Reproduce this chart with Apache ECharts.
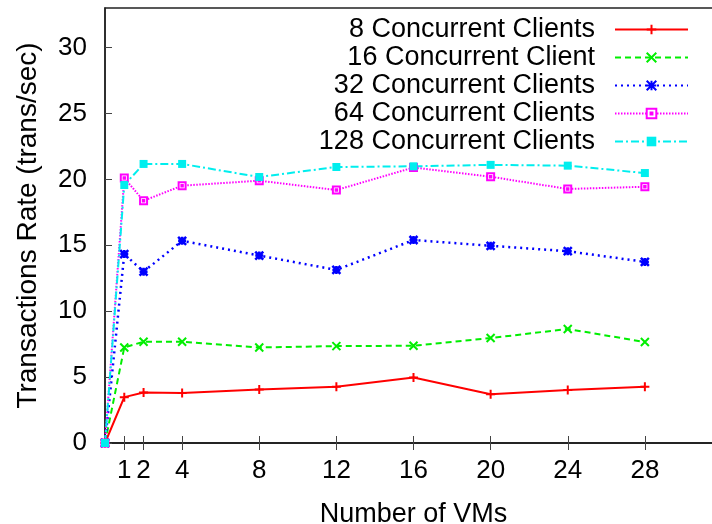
<!DOCTYPE html>
<html>
<head>
<meta charset="utf-8">
<script src="https://cdn.jsdelivr.net/npm/echarts@6/dist/echarts.min.js"></script>
<style>
  html, body { margin: 0; padding: 0; background: #fff; }
  #chart { width: 712px; height: 524px; }
</style>
</head>
<body>
<div id="chart"></div>
<script>
// Number of VMs (x positions of the measurements)
const vms = [0, 1, 2, 4, 8, 12, 16, 20, 24, 28];
const xTicks = [1, 2, 4, 8, 12, 16, 20, 24, 28];
const yTicks = [0, 5, 10, 15, 20, 25, 30];

// Transactions rate (trans/sec) per client count
const clients8   = [0, 3.48, 3.83, 3.80, 4.06, 4.26, 4.97, 3.70, 4.02, 4.26];
const clients16  = [0, 7.25, 7.68, 7.68, 7.25, 7.35, 7.38, 7.96, 8.65, 7.66];
const clients32  = [0, 14.33, 13.0, 15.34, 14.22, 13.13, 15.40, 14.96, 14.55, 13.74];
const clients64  = [0, 20.1, 18.38, 19.52, 19.9, 19.19, 20.9, 20.2, 19.27, 19.44];
const clients128 = [0, 19.57, 21.17, 21.17, 20.18, 20.94, 20.99, 21.1, 21.04, 20.48];

const seriesNames = [
  '8 Concurrent Clients',
  '16 Concurrent Client',
  '32 Concurrent Clients',
  '64 Concurrent Clients',
  '128 Concurrent Clients'
];

const FONT = '"Liberation Sans", Arial, Helvetica, sans-serif';

// point glyphs: plus, cross, star, open box with centre dot, filled box
const SYM_PLUS  = 'path://M0,5L10,5M5,0L5,10';
const SYM_CROSS = 'path://M0,0L10,10M10,0L0,10';
const SYM_STAR  = 'path://M0,0L10,10M10,0L0,10M5,0L5,10M0,5L10,5';
const SYM_BOX   = 'path://M0,0L10,0L10,10L0,10Z M4,4L6,4L6,6L4,6Z';

function pairs(vals) {
  return vms.map((x, i) => [x, vals[i]]);
}

function mkSeries(name, vals, color, dash, width, symbol, size, fill, border) {
  return {
    name: name,
    type: 'line',
    data: pairs(vals),
    symbol: symbol,
    symbolSize: size,
    showAllSymbol: true,
    clip: false,
    animation: false,
    lineStyle: { color: color, width: width, type: dash },
    itemStyle: { color: fill, borderColor: color, borderWidth: border, opacity: 1 },
    emphasis: { disabled: true }
  };
}

const chart = echarts.init(document.getElementById('chart'), null, { renderer: 'canvas' });

chart.setOption({
  backgroundColor: '#ffffff',
  animation: false,
  textStyle: { fontFamily: FONT },
  grid: {
    // the plot frame runs past the right edge of the canvas (x range 0..32)
    left: 105, top: 8, bottom: 81, right: -10,
    outerBoundsMode: 'none',
    containLabel: false,
    show: true, borderColor: '#222', borderWidth: 1.5, backgroundColor: 'transparent'
  },
  legend: {
    orient: 'vertical',
    align: 'right',
    right: 18,
    top: 11,
    itemWidth: 73,
    itemHeight: 12,
    itemGap: 1,
    selectedMode: false,
    // trailing spaces keep the gap between the label and its key line
    formatter: function (name) { return name + '  '; },
    textStyle: { fontFamily: FONT, fontSize: 27, color: '#000' },
    data: seriesNames
  },
  xAxis: [{
    type: 'value',
    min: 0, max: 32,
    name: 'Number of VMs',
    nameLocation: 'middle',
    nameGap: 58,
    nameTextStyle: { fontFamily: FONT, fontSize: 27, color: '#000' },
    axisLine: { show: true, onZero: false, lineStyle: { color: '#222', width: 1.5 } },
    axisTick: { show: true, inside: true, length: 7, customValues: xTicks, lineStyle: { color: '#444', width: 1 } },
    axisLabel: { customValues: xTicks, fontFamily: FONT, fontSize: 26, color: '#000', margin: 15 },
    splitLine: { show: false }
  }, {
    type: 'value',
    position: 'top',
    min: 0, max: 32,
    axisLine: { show: true, lineStyle: { color: '#222', width: 1.5 } },
    axisTick: { show: true, inside: true, length: 7, customValues: xTicks, lineStyle: { color: '#444', width: 1 } },
    axisLabel: { show: false },
    splitLine: { show: false }
  }],
  yAxis: {
    type: 'value',
    min: 0, max: 33,
    name: 'Transactions Rate (trans/sec)',
    nameLocation: 'middle',
    nameGap: 63,
    nameTextStyle: { fontFamily: FONT, fontSize: 28, color: '#000' },
    axisLine: { show: true, lineStyle: { color: '#222', width: 1.5 } },
    axisTick: { show: true, inside: true, length: 7, customValues: yTicks, lineStyle: { color: '#444', width: 1 } },
    axisLabel: { customValues: yTicks, fontFamily: FONT, fontSize: 26, color: '#000', margin: 18 },
    splitLine: { show: false }
  },
  series: [
    mkSeries(seriesNames[0], clients8,   '#ff0000', 'solid',          2,   SYM_PLUS,  9, '#ff0000', 2),
    mkSeries(seriesNames[1], clients16,  '#00ee00', [6, 4],           2,   SYM_CROSS, 8, '#00ee00', 2),
    mkSeries(seriesNames[2], clients32,  '#0000ff', [2, 4],           2.5, SYM_STAR,  8, '#0000ff', 2.5),
    mkSeries(seriesNames[3], clients64,  '#ff00ff', [1.5, 1.5],       2,   SYM_BOX,   7, '#ffffff', 2),
    mkSeries(seriesNames[4], clients128, '#00eeee', [8, 3, 2, 3],     2,   'rect',    8, '#00eeee', 0)
  ]
});
</script>
</body>
</html>
